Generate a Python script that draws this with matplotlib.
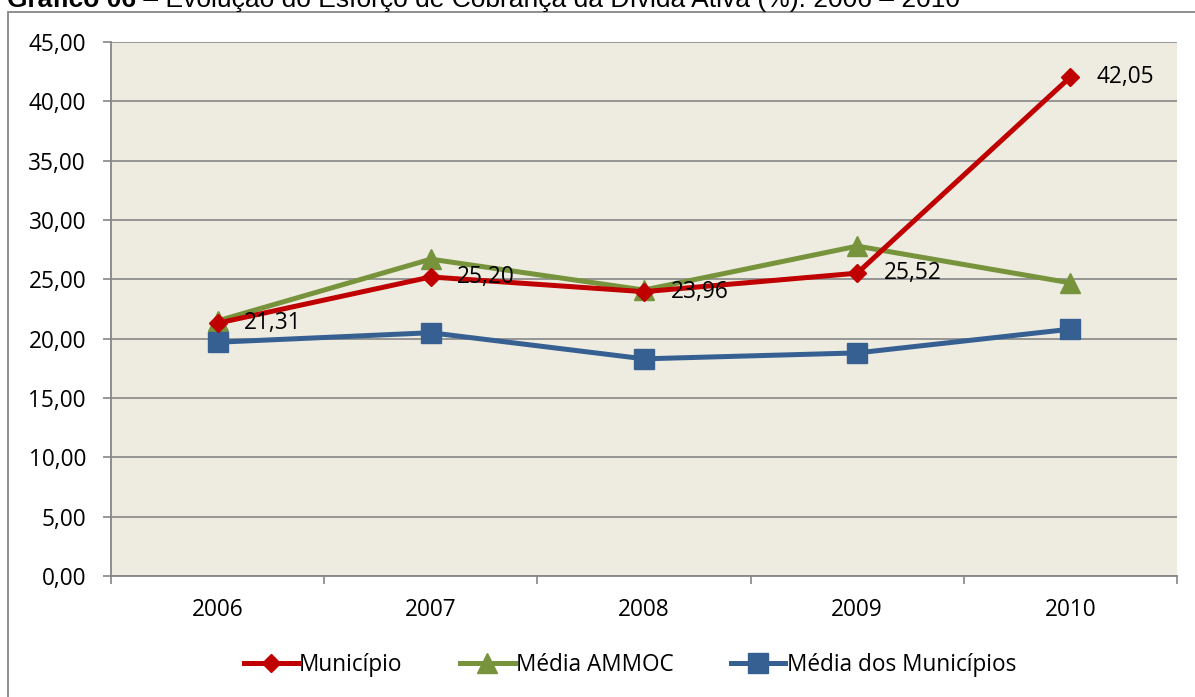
import matplotlib
matplotlib.use("Agg")
import matplotlib.pyplot as plt
from matplotlib.patches import Rectangle

# dados do grafico
anos = ["2006", "2007", "2008", "2009", "2010"]
municipio = [21.31, 25.20, 23.96, 25.52, 42.05]
media_ammoc = [21.5, 26.7, 24.1, 27.8, 24.7]
media_municipios = [19.7, 20.5, 18.3, 18.8, 20.8]
rotulos_municipio = ["21,31", "25,20", "23,96", "25,52", "42,05"]
yticks = [0, 5, 10, 15, 20, 25, 30, 35, 40, 45]
ytick_labels = [f"{v:.2f}".replace(".", ",") for v in yticks]

cinza = "#868686"
fonte = "Open Sans"
tam = 16.3

fig = plt.figure(figsize=(11.95, 6.97), dpi=100)
W, H = 1195, 697
ax = fig.add_axes([111 / W, 1 - 576 / H, (1177 - 111) / W, (576 - 42) / H])
ax.set_facecolor("#EEECE1")

# moldura externa do grafico
fig.patches.append(Rectangle((7.5 / W, -0.2), 2, 1.2 - 12.5 / H,
                             transform=fig.transFigure, fill=False,
                             edgecolor=cinza, linewidth=1.3))

x = list(range(len(anos)))
ax.plot(x, municipio, color="#C00000", lw=3.6, marker="D", ms=9,
        label="Município", zorder=4)
ax.plot(x, media_ammoc, color="#77933C", lw=3.6, marker="^", ms=14,
        label="Média AMMOC", zorder=3)
ax.plot(x, media_municipios, color="#376092", lw=3.6, marker="s", ms=14,
        label="Média dos Municípios", zorder=3)

# rotulos de dados
for xi, yi, txt in zip(x, municipio, rotulos_municipio):
    ax.annotate(txt, (xi, yi), xytext=(19, 0), textcoords="offset points",
                ha="left", va="center", fontsize=tam, family=fonte,
                color="black", zorder=6)

ax.set_xlim(-0.5, 4.5)
ax.set_ylim(0, 45)
ax.set_yticks(yticks)
ax.set_yticklabels(ytick_labels, fontsize=tam, family=fonte)
ax.yaxis.grid(True, color=cinza, lw=1.2)
ax.set_axisbelow(True)

ax.set_xticks([-0.5, 0.5, 1.5, 2.5, 3.5, 4.5])
ax.set_xticklabels([])
ax.set_xticks(x, minor=True)
ax.set_xticklabels(anos, minor=True, fontsize=tam, family=fonte)
ax.tick_params(axis="x", which="major", length=6, color=cinza, width=1.2, direction="out")
ax.tick_params(axis="x", which="minor", length=0, pad=16)
ax.tick_params(axis="y", length=6, color=cinza, width=1.2, pad=12)

for s in ["top", "right"]:
    ax.spines[s].set_visible(False)
for s in ["left", "bottom"]:
    ax.spines[s].set_color(cinza)
    ax.spines[s].set_linewidth(1.3)

leg = fig.legend(loc="center", bbox_to_anchor=(0.527, 1 - 665 / H), ncol=3,
                 frameon=False, handlelength=2.4, handletextpad=0.05,
                 columnspacing=2.55, prop={"family": fonte, "size": tam})

# titulo (cortado no topo como no original)
t1 = fig.text(7 / W, 1 - 7 / H, "Gráfico 06", fontsize=19, weight="bold",
              family="Liberation Sans", va="baseline", ha="left")
fig.canvas.draw()
bb = t1.get_window_extent()
fig.text(bb.x1 / W, 1 - 7 / H,
         " – Evolução do Esforço de Cobrança da Dívida Ativa (%): 2006 – 2010",
         fontsize=19, family="Liberation Sans", va="baseline", ha="left")

fig.savefig("out.png", dpi=100)
